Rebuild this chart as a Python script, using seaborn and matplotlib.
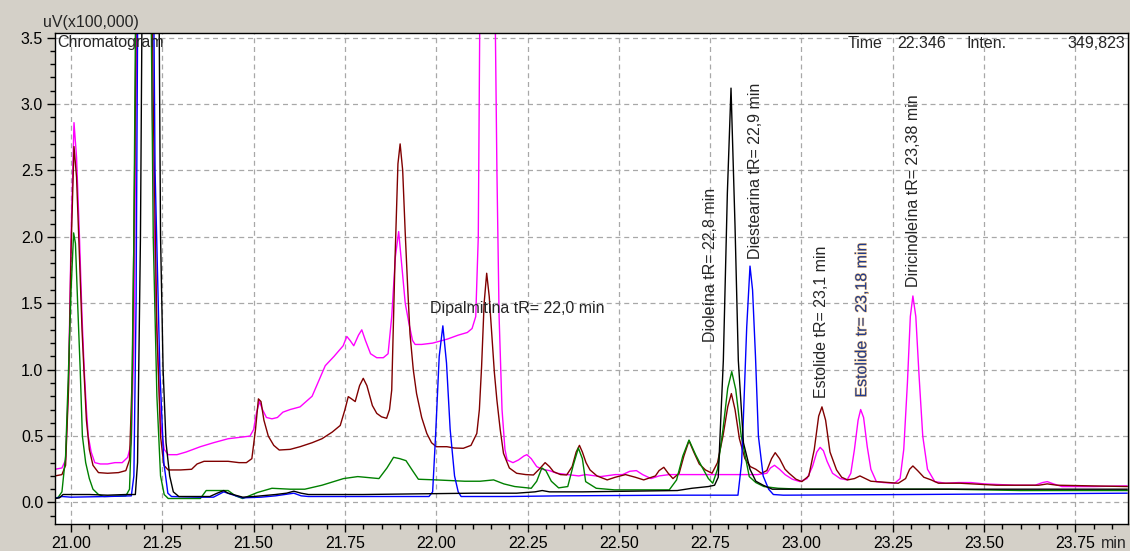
import numpy as np
import pandas as pd
import matplotlib
matplotlib.use("Agg")
import matplotlib.pyplot as plt
import matplotlib.patheffects as pe
from matplotlib.ticker import MultipleLocator, FormatStrFormatter
import seaborn as sns

# ---- chromatogram traces (time in min, intensity in uV x 100,000) ----
magenta_t = [20.956, 20.975, 20.985, 20.993, 21.000, 21.008, 21.015, 21.023, 21.030, 21.036,
             21.042, 21.047, 21.055, 21.065, 21.080, 21.100, 21.120, 21.140, 21.155, 21.165,
             21.172, 21.178, 21.185, 21.200, 21.215, 21.222, 21.232, 21.245, 21.255, 21.266,
             21.290, 21.315, 21.354, 21.390, 21.430, 21.460, 21.490, 21.500, 21.508, 21.516,
             21.524, 21.535, 21.550, 21.565, 21.580, 21.600, 21.627, 21.660, 21.696, 21.720,
             21.745, 21.755, 21.764, 21.774, 21.787, 21.796, 21.806, 21.820, 21.837, 21.855,
             21.868, 21.878, 21.888, 21.897, 21.905, 21.915, 21.925, 21.935, 21.942, 21.960,
             21.990, 22.030, 22.060, 22.085, 22.098, 22.108, 22.115, 22.120, 22.140, 22.160,
             22.166, 22.172, 22.180, 22.188, 22.194, 22.210, 22.225, 22.240, 22.248, 22.260,
             22.275, 22.290, 22.310, 22.330, 22.360, 22.390, 22.409, 22.450, 22.490, 22.510,
             22.530, 22.548, 22.565, 22.588, 22.610, 22.638, 22.700, 22.800, 22.880, 22.905,
             22.915, 22.926, 22.940, 22.955, 22.975, 22.996, 23.015, 23.030, 23.042, 23.051,
             23.060, 23.070, 23.085, 23.106, 23.125, 23.135, 23.145, 23.155, 23.162, 23.170,
             23.180, 23.190, 23.205, 23.225, 23.255, 23.270, 23.280, 23.290, 23.298, 23.305,
             23.313, 23.322, 23.332, 23.345, 23.365, 23.395, 23.430, 23.464, 23.500, 23.584,
             23.640, 23.660, 23.673, 23.690, 23.713, 23.800, 23.892]
magenta_v = [0.25, 0.26, 0.32, 0.90, 2.00, 2.86, 2.60, 2.00, 1.40, 1.00,
             0.70, 0.50, 0.38, 0.30, 0.29, 0.29, 0.30, 0.30, 0.34, 0.45,
             1.20, 3.00, 6.00, 7.00, 6.00, 3.00, 1.50, 0.60, 0.40, 0.36,
             0.36, 0.38, 0.42, 0.45, 0.48, 0.49, 0.50, 0.55, 0.68, 0.76,
             0.70, 0.64, 0.63, 0.64, 0.68, 0.70, 0.72, 0.80, 1.03, 1.10,
             1.18, 1.25, 1.22, 1.18, 1.26, 1.30, 1.22, 1.12, 1.09, 1.09,
             1.12, 1.40, 1.85, 2.04, 1.80, 1.50, 1.35, 1.22, 1.19, 1.19,
             1.20, 1.23, 1.26, 1.28, 1.31, 1.40, 2.00, 4.00, 7.00, 4.00,
             2.50, 1.40, 0.70, 0.40, 0.32, 0.30, 0.32, 0.35, 0.36, 0.33,
             0.27, 0.25, 0.24, 0.22, 0.21, 0.20, 0.21, 0.195, 0.21, 0.21,
             0.235, 0.24, 0.21, 0.18, 0.20, 0.21, 0.21, 0.21, 0.21, 0.22,
             0.26, 0.28, 0.25, 0.21, 0.175, 0.157, 0.18, 0.27, 0.38, 0.415,
             0.39, 0.31, 0.22, 0.18, 0.17, 0.22, 0.40, 0.62, 0.70, 0.64,
             0.42, 0.25, 0.157, 0.15, 0.145, 0.18, 0.40, 0.90, 1.40, 1.555,
             1.40, 0.95, 0.50, 0.25, 0.157, 0.145, 0.15, 0.15, 0.14, 0.13,
             0.13, 0.15, 0.157, 0.14, 0.12, 0.12, 0.125]

brown_t = [20.956, 20.975, 20.985, 20.993, 21.000, 21.008, 21.015, 21.023, 21.030, 21.036,
           21.042, 21.050, 21.060, 21.075, 21.100, 21.130, 21.150, 21.160, 21.168, 21.176,
           21.185, 21.200, 21.215, 21.225, 21.235, 21.245, 21.254, 21.266, 21.300, 21.330,
           21.345, 21.364, 21.400, 21.430, 21.460, 21.480, 21.495, 21.505, 21.513, 21.520,
           21.528, 21.540, 21.555, 21.570, 21.600, 21.627, 21.660, 21.687, 21.715, 21.737,
           21.750, 21.759, 21.768, 21.778, 21.790, 21.800, 21.810, 21.825, 21.837, 21.850,
           21.864, 21.872, 21.878, 21.887, 21.895, 21.901, 21.908, 21.915, 21.922, 21.928,
           21.937, 21.946, 21.960, 21.974, 21.987, 22.000, 22.029, 22.050, 22.074, 22.095,
           22.111, 22.118, 22.124, 22.131, 22.138, 22.145, 22.152, 22.159, 22.166, 22.175,
           22.184, 22.200, 22.220, 22.245, 22.266, 22.285, 22.298, 22.310, 22.321, 22.340,
           22.357, 22.372, 22.383, 22.392, 22.400, 22.410, 22.421, 22.440, 22.468, 22.490,
           22.518, 22.545, 22.568, 22.600, 22.610, 22.623, 22.635, 22.648, 22.665, 22.678,
           22.692, 22.705, 22.720, 22.737, 22.755, 22.770, 22.785, 22.798, 22.808, 22.818,
           22.830, 22.845, 22.860, 22.875, 22.890, 22.905, 22.918, 22.928, 22.940, 22.955,
           22.966, 22.985, 23.001, 23.020, 23.035, 23.047, 23.056, 23.066, 23.078, 23.096,
           23.110, 23.126, 23.145, 23.160, 23.175, 23.190, 23.205, 23.265, 23.285, 23.296,
           23.305, 23.318, 23.335, 23.355, 23.375, 23.434, 23.534, 23.650, 23.673, 23.700,
           23.892]
brown_v = [0.20, 0.21, 0.28, 0.85, 1.90, 2.68, 2.45, 1.85, 1.30, 0.95,
           0.62, 0.40, 0.28, 0.225, 0.22, 0.225, 0.24, 0.32, 1.00, 3.00,
           6.00, 7.00, 6.00, 3.00, 1.30, 0.50, 0.28, 0.245, 0.245, 0.25,
           0.29, 0.31, 0.31, 0.31, 0.30, 0.30, 0.33, 0.55, 0.78, 0.76,
           0.62, 0.50, 0.43, 0.395, 0.40, 0.42, 0.45, 0.48, 0.53, 0.58,
           0.70, 0.797, 0.78, 0.76, 0.88, 0.935, 0.88, 0.73, 0.671, 0.645,
           0.634, 0.70, 0.847, 1.83, 2.55, 2.70, 2.50, 2.026, 1.60, 1.27,
           1.00, 0.82, 0.64, 0.52, 0.45, 0.42, 0.42, 0.41, 0.408, 0.43,
           0.52, 0.70, 1.02, 1.50, 1.726, 1.55, 1.27, 0.98, 0.77, 0.55,
           0.37, 0.26, 0.22, 0.21, 0.207, 0.26, 0.30, 0.27, 0.232, 0.21,
           0.207, 0.27, 0.38, 0.43, 0.38, 0.30, 0.245, 0.20, 0.17, 0.19,
           0.21, 0.19, 0.17, 0.20, 0.24, 0.265, 0.22, 0.18, 0.22, 0.35,
           0.465, 0.38, 0.29, 0.245, 0.22, 0.30, 0.50, 0.72, 0.82, 0.70,
           0.48, 0.33, 0.27, 0.25, 0.22, 0.24, 0.33, 0.375, 0.33, 0.25,
           0.22, 0.175, 0.157, 0.20, 0.40, 0.65, 0.72, 0.62, 0.38, 0.245,
           0.19, 0.17, 0.18, 0.20, 0.18, 0.16, 0.157, 0.145, 0.18, 0.25,
           0.275, 0.24, 0.19, 0.17, 0.145, 0.145, 0.13, 0.13, 0.14, 0.13,
           0.12]

green_t = [20.956, 20.965, 20.975, 20.985, 20.993, 21.000, 21.007, 21.012, 21.018, 21.025,
           21.031, 21.040, 21.050, 21.060, 21.075, 21.090, 21.150, 21.160, 21.165, 21.172,
           21.180, 21.200, 21.215, 21.225, 21.235, 21.245, 21.255, 21.266, 21.300, 21.354,
           21.370, 21.400, 21.430, 21.450, 21.470, 21.510, 21.550, 21.600, 21.640, 21.687,
           21.746, 21.785, 21.843, 21.865, 21.883, 21.900, 21.917, 21.935, 21.951, 22.000,
           22.078, 22.120, 22.157, 22.185, 22.215, 22.260, 22.275, 22.289, 22.300, 22.315,
           22.335, 22.360, 22.375, 22.389, 22.400, 22.409, 22.438, 22.488, 22.600, 22.638,
           22.658, 22.675, 22.692, 22.710, 22.727, 22.745, 22.757, 22.770, 22.785, 22.798,
           22.809, 22.820, 22.835, 22.857, 22.875, 22.897, 22.936, 23.000, 23.150, 23.250,
           23.400, 23.600, 23.892]
green_v = [0.03, 0.04, 0.08, 0.35, 1.00, 1.60, 2.03, 1.95, 1.50, 1.00,
           0.50, 0.30, 0.18, 0.10, 0.06, 0.045, 0.05, 0.10, 0.50, 2.00,
           5.00, 7.00, 5.00, 2.00, 0.80, 0.20, 0.06, 0.03, 0.03, 0.03,
           0.09, 0.09, 0.09, 0.05, 0.03, 0.075, 0.107, 0.10, 0.10, 0.13,
           0.18, 0.195, 0.18, 0.26, 0.34, 0.33, 0.315, 0.24, 0.175, 0.17,
           0.16, 0.16, 0.17, 0.14, 0.12, 0.107, 0.16, 0.26, 0.24, 0.16,
           0.11, 0.12, 0.28, 0.41, 0.33, 0.157, 0.107, 0.095, 0.095, 0.095,
           0.17, 0.35, 0.47, 0.36, 0.27, 0.18, 0.145, 0.25, 0.55, 0.86,
           0.985, 0.85, 0.50, 0.195, 0.15, 0.12, 0.107, 0.10, 0.10, 0.10,
           0.10, 0.09, 0.09]

blue_t = [20.956, 20.975, 21.000, 21.100, 21.165, 21.172, 21.178, 21.185, 21.200, 21.220,
          21.230, 21.243, 21.254, 21.265, 21.275, 21.350, 21.390, 21.418, 21.440, 21.470,
          21.520, 21.560, 21.610, 21.630, 21.650, 21.800, 21.980, 21.990, 21.998, 22.008,
          22.018, 22.028, 22.038, 22.050, 22.060, 22.068, 22.200, 22.339, 22.660, 22.826,
          22.836, 22.840, 22.850, 22.859, 22.866, 22.874, 22.882, 22.895, 22.910, 22.923,
          22.950, 23.300, 23.600, 23.892]
blue_v = [0.03, 0.045, 0.04, 0.045, 0.05, 0.20, 1.50, 5.00, 7.00, 6.00,
          2.50, 1.00, 0.30, 0.07, 0.045, 0.04, 0.04, 0.08, 0.06, 0.035,
          0.04, 0.05, 0.07, 0.05, 0.045, 0.045, 0.045, 0.08, 0.50, 1.10,
          1.33, 1.05, 0.55, 0.20, 0.08, 0.045, 0.045, 0.05, 0.055, 0.055,
          0.30, 0.57, 1.32, 1.78, 1.60, 1.10, 0.50, 0.20, 0.10, 0.06,
          0.055, 0.06, 0.065, 0.07]

black_t = [20.956, 20.968, 20.978, 21.050, 21.100, 21.150, 21.176, 21.182, 21.190, 21.200,
           21.220, 21.238, 21.245, 21.252, 21.260, 21.270, 21.280, 21.295, 21.380, 21.400,
           21.418, 21.430, 21.470, 21.500, 21.560, 21.590, 21.610, 21.630, 21.650, 21.800,
           22.100, 22.220, 22.270, 22.290, 22.310, 22.400, 22.660, 22.700, 22.745, 22.762,
           22.772, 22.786, 22.797, 22.807, 22.818, 22.827, 22.841, 22.859, 22.875, 22.895,
           22.920, 23.000, 23.892]
black_v = [0.03, 0.035, 0.06, 0.06, 0.055, 0.06, 0.06, 0.30, 2.00, 6.00,
           7.00, 5.00, 2.00, 1.00, 0.45, 0.20, 0.08, 0.045, 0.045, 0.07,
           0.09, 0.07, 0.04, 0.045, 0.06, 0.07, 0.085, 0.07, 0.06, 0.06,
           0.07, 0.07, 0.08, 0.09, 0.08, 0.08, 0.09, 0.107, 0.12, 0.13,
           0.19, 1.07, 2.33, 3.12, 2.08, 1.07, 0.45, 0.25, 0.16, 0.13,
           0.10, 0.10, 0.10]

trace_names = ["magenta", "brown", "green", "blue", "black"]
trace_colors = ["#ff00ff", "#800000", "#008000", "#0000ff", "#000000"]

# ---- peak labels: text, x (min), y (base of text) ----
peak_labels = ["Dioleína tR= 22,8 min", "Diestearina tR= 22,9 min", "Estolide tR= 23,1 min",
               "Estolide tr= 23,18 min", "Diricinoleína tR= 23,38 min"]
peak_label_x = [22.750, 22.873, 23.055, 23.165, 23.306]
peak_label_y = [1.21, 1.83, 0.79, 0.79, 1.62]

x_ticks = [21.00, 21.25, 21.50, 21.75, 22.00, 22.25, 22.50, 22.75, 23.00, 23.25, 23.50, 23.75]
y_ticks = [0.0, 0.5, 1.0, 1.5, 2.0, 2.5, 3.0, 3.5]

frames = []
for name, t, v in [("magenta", magenta_t, magenta_v), ("brown", brown_t, brown_v),
                   ("green", green_t, green_v), ("blue", blue_t, blue_v),
                   ("black", black_t, black_v)]:
    frames.append(pd.DataFrame({"time": t, "intensity": v, "trace": name}))
df = pd.concat(frames, ignore_index=True)

sns.set_style("white")
plt.rcParams["font.family"] = ["Liberation Sans", "DejaVu Sans"]
plt.rcParams["font.size"] = 11.5

BG = "#d4d0c8"
fig = plt.figure(figsize=(11.30, 5.51), dpi=100, facecolor=BG)
ax = fig.add_axes([55 / 1130, 27 / 551, (1128 - 55) / 1130, (524 - 33) / 551])
ax.set_facecolor("white")

sns.lineplot(data=df, x="time", y="intensity", hue="trace", hue_order=trace_names,
             palette=dict(zip(trace_names, trace_colors)), estimator=None, sort=False,
             legend=False, linewidth=1.0, ax=ax)

ax.set_xlim(20.956, 23.894)
ax.set_ylim(-0.162, 3.535)

ax.set_xticks(x_ticks)
ax.set_yticks(y_ticks)
ax.xaxis.set_major_formatter(FormatStrFormatter("%.2f"))
ax.yaxis.set_major_formatter(FormatStrFormatter("%.1f"))
ax.xaxis.set_minor_locator(MultipleLocator(0.05))
ax.yaxis.set_minor_locator(MultipleLocator(0.1))
ax.tick_params(axis="both", which="major", direction="out", length=6, width=1,
               color="black", labelsize=11.5, labelcolor="black", pad=2.5)
ax.tick_params(axis="both", which="minor", direction="out", length=3.5, width=1, color="black")
ax.tick_params(axis="x", bottom=True, which="both")
ax.tick_params(axis="y", left=True, which="both")
ax.set_xlabel("")
ax.set_ylabel("")

ax.grid(True, which="major", color="#a8a8a8", linestyle=(0, (4, 3)), linewidth=0.9)
ax.set_axisbelow(True)
for s in ax.spines.values():
    s.set_color("black")
    s.set_linewidth(1.0)

# header texts
fig.text(43 / 1130, 1 - 23 / 551, "uV(x100,000)", ha="left", va="center", fontsize=11.5)
ax.text(0.002, 0.98, "Chromatogram", transform=ax.transAxes,
        ha="left", va="center", fontsize=11.5)
for txt, px in [("Time", 848), ("22.346", 897), ("Inten.", 967)]:
    fig.text(px / 1130, 1 - 43 / 551, txt, ha="left", va="center", fontsize=11.5)
fig.text(1125 / 1130, 1 - 43 / 551, "349,823", ha="right", va="center", fontsize=11.5)
fig.text(1127 / 1130, 1 - 543 / 551, "min", ha="right", va="center", fontsize=11.5)

# peak annotations
ax.text(21.983, 1.457, "Dipalmitina tR= 22,0 min", ha="left", va="center", fontsize=11.5)
for lab, lx, ly in zip(peak_labels, peak_label_x, peak_label_y):
    if lab.startswith("Estolide tr"):
        ax.text(lx, ly, lab, rotation=90, ha="center", va="bottom", fontsize=11.5,
                color="#1f3a8c",
                path_effects=[pe.withStroke(linewidth=0.8, foreground="#f7c98a")])
    else:
        ax.text(lx, ly, lab, rotation=90, ha="center", va="bottom", fontsize=11.5)

fig.savefig("out.png", dpi=100, facecolor=BG)
